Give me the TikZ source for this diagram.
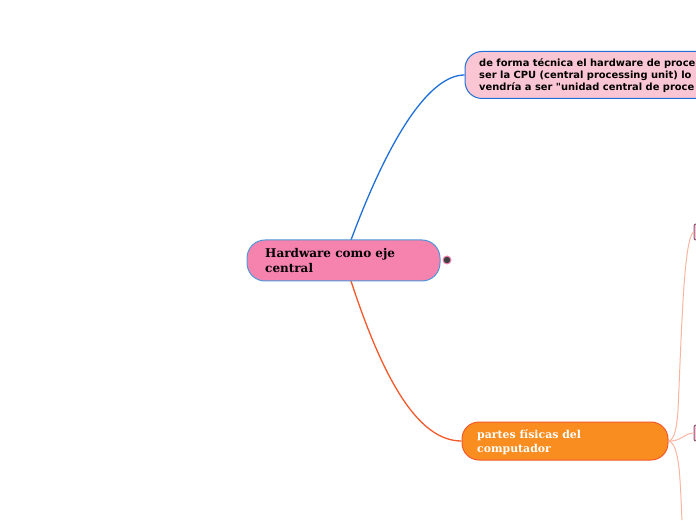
\documentclass[tikz,border=0pt]{standalone}
\usepackage{fontspec}
\setmainfont{Liberation Serif}
\newfontfamily\boxfont{DejaVu Sans}
\newfontfamily\titlefont{DejaVu Serif}
\usetikzlibrary{calc}
\definecolor{rootpink}{HTML}{F583AE}
\definecolor{rootblue}{HTML}{4F96D8}
\definecolor{notepink}{HTML}{FBC6D3}
\definecolor{noteblue}{HTML}{1E6FD9}
\definecolor{partorange}{HTML}{F98D20}
\definecolor{partred}{HTML}{F4592A}
\definecolor{thinred}{HTML}{F9B5A0}
\definecolor{tabpurple}{HTML}{8A5A78}
\tikzset{
  rootnode/.style={draw=rootblue, fill=rootpink, line width=1pt, rounded corners=18pt, inner sep=0pt, minimum width=193pt, minimum height=41pt},
  notenode/.style={draw=noteblue, fill=notepink, line width=1pt, rounded corners=17pt, inner sep=0pt, minimum width=300pt, minimum height=47pt},
  partnode/.style={draw=partred, fill=partorange, line width=1pt, rounded corners=17pt, inner sep=0pt, minimum width=206pt, minimum height=38pt},
  tabnode/.style={draw=tabpurple, fill=notepink, line width=1pt, rounded corners=2pt, inner sep=0pt, minimum width=12pt, minimum height=16pt},
  textnode/.style={inner sep=0pt, anchor=north west, align=left},
  thinline/.style={draw=thinred, line width=1pt}
}
\begin{document}
\begin{tikzpicture}[x=1pt, y=1pt]
      \useasboundingbox (0,0) rectangle (696,520);
      \clip (0,0) rectangle (696,520);

      \coordinate (rootup) at (351,280);
      \coordinate (rootdown) at (351,239);
      \coordinate (tabfree) at (682,0);
      \coordinate (bendup) at (678,110);

      \node[notenode] (note) at (615,445) {};
      \node[partnode] (part) at (565,79) {};
      \node[tabnode] (tabup) at (700,288) {};
      \node[tabnode] (tabdown) at (700,87) {};

      \draw[draw=noteblue, line width=1.3pt] (rootup) .. controls (390,385) and (430,445) .. (note.west);
      \draw[draw=partred, line width=1.3pt] (rootdown) .. controls (385,135) and (420,79) .. (part.west);

      \draw[thinline] (part.east) .. controls (675,80) and (677,95) .. (bendup) .. controls (682,200) and (684,280) .. (tabup.west);
      \draw[thinline] (part.east) .. controls (680,78) and (685,87) .. (tabdown.west);
      \draw[thinline] (part.east) .. controls (680,76) and (680,40) .. (tabfree);

      \node[rootnode] (root) at (343.5,259.5) {};
      \node[circle, inner sep=0pt, minimum size=9pt, fill=rootpink] (globe) at (447,260) {};
      \node[circle, inner sep=0pt, minimum size=6.5pt, fill=black!75] (globein) at (447,260) {};

      \node[textnode, font=\titlefont\bfseries\fontsize{12}{15}\selectfont] (roottext) at (265,271.5) {Hardware como eje\\central};
      \node[textnode, font=\boxfont\bfseries\fontsize{9.9}{12}\selectfont] (notetext) at (479,462) {de forma técnica el hardware de proce\\ser la CPU (central processing unit) lo\\vendría a ser "unidad central de proce};
      \node[textnode, font=\titlefont\bfseries\fontsize{10.9}{14}\selectfont, text=white] (parttext) at (477,90.5) {partes físicas del\\computador};
    \end{tikzpicture}
\end{document}
